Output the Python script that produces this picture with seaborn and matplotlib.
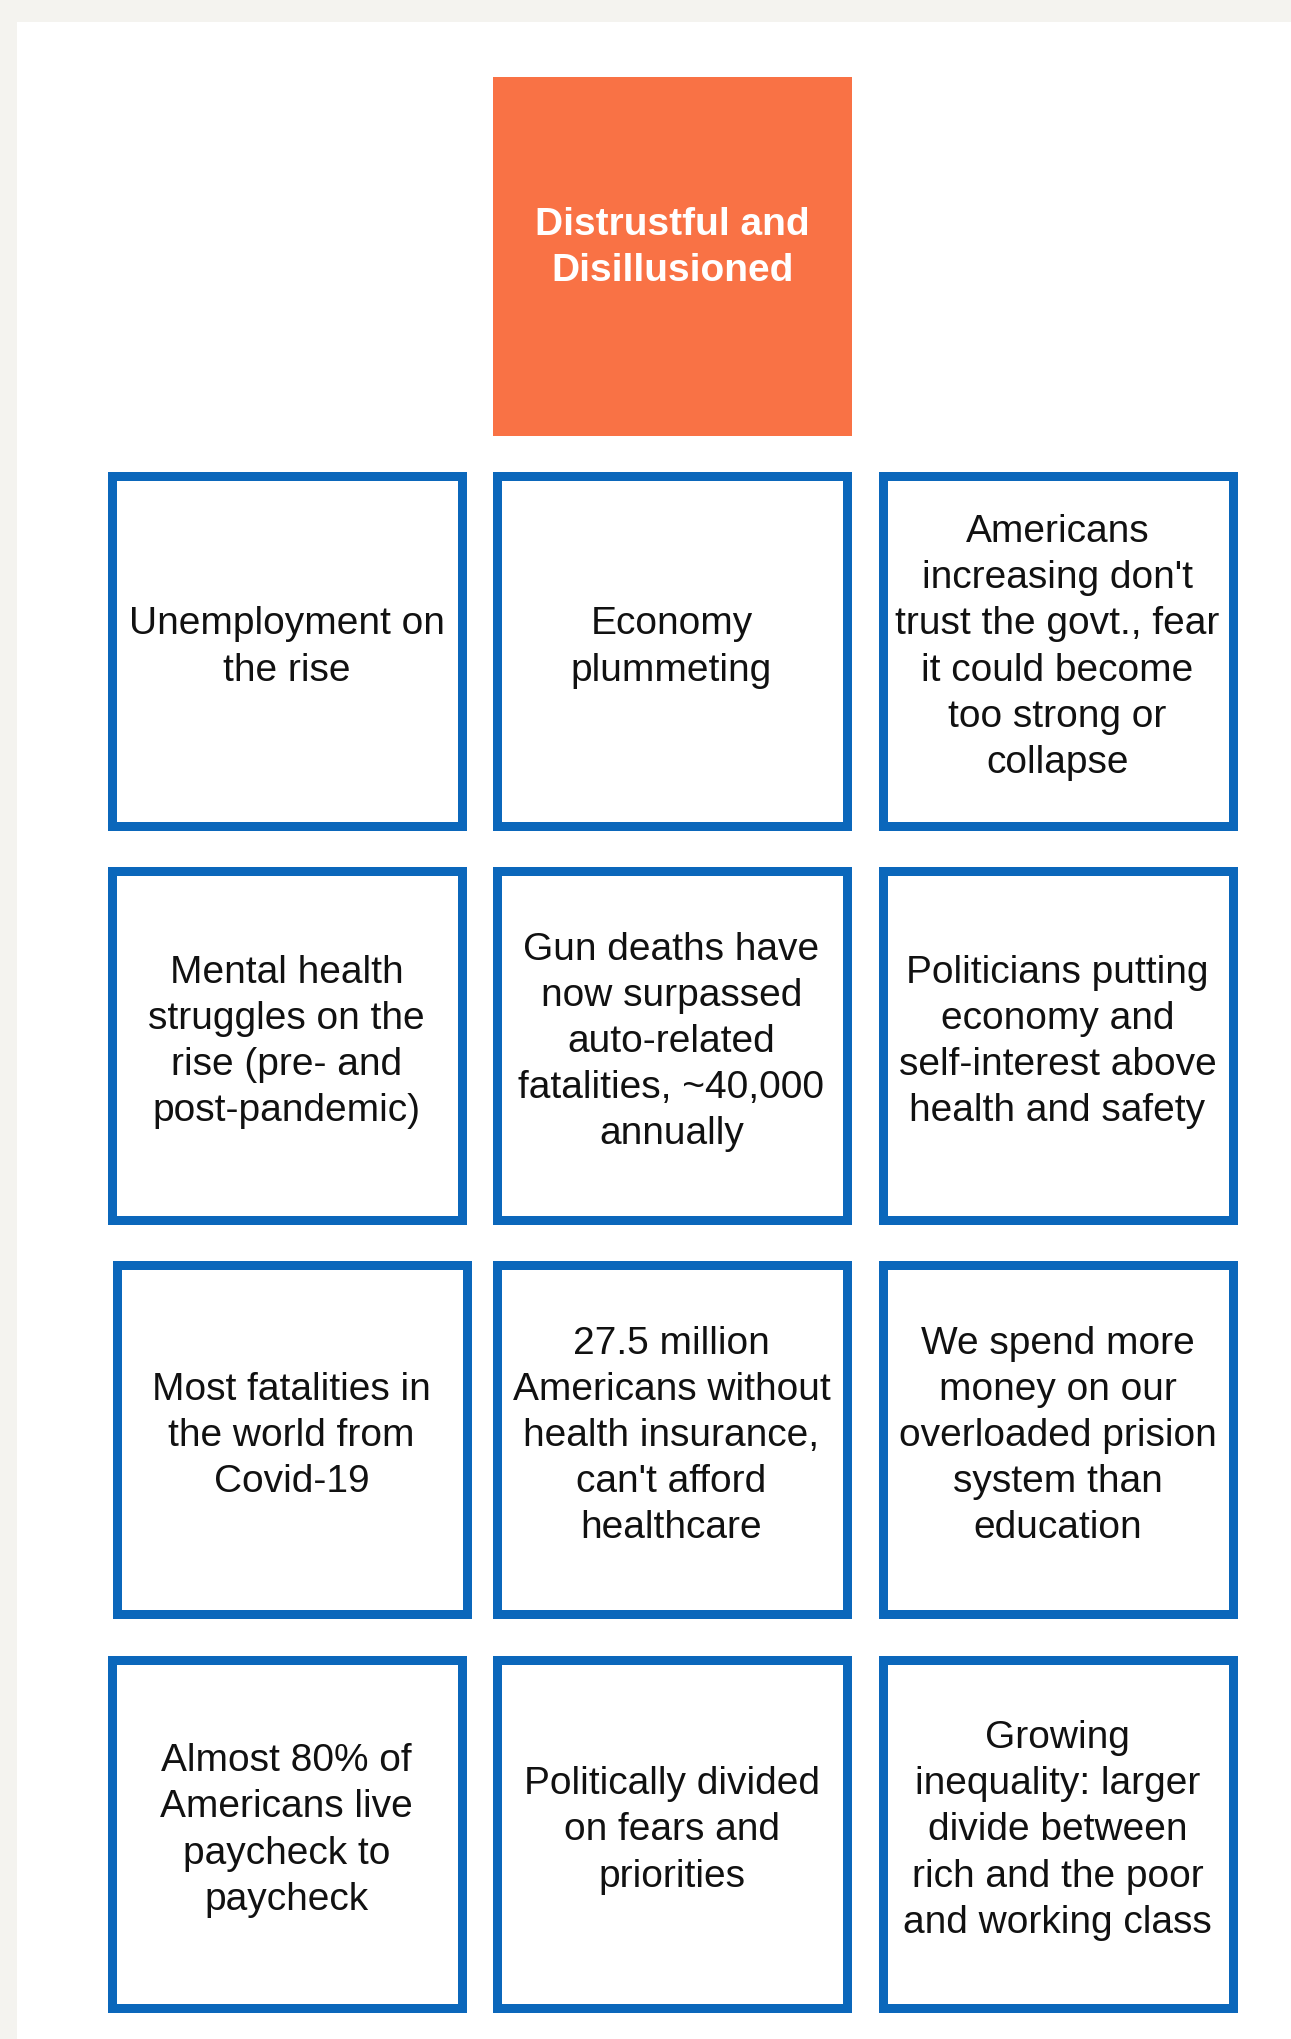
import matplotlib
matplotlib.use("Agg")
import matplotlib.pyplot as plt
from matplotlib.patches import Rectangle
import seaborn as sns

# Chart content
title_text = "Distrustful and\nDisillusioned"
card_rows = [0, 0, 0, 1, 1, 1, 2, 2, 2, 3, 3, 3]
card_cols = [0, 1, 2, 0, 1, 2, 0, 1, 2, 0, 1, 2]
card_texts = [
    "Unemployment on\nthe rise",
    "Economy\nplummeting",
    "Americans\nincreasing don't\ntrust the govt., fear\nit could become\ntoo strong or\ncollapse",
    "Mental health\nstruggles on the\nrise (pre- and\npost-pandemic)",
    "Gun deaths have\nnow surpassed\nauto-related\nfatalities, ~40,000\nannually",
    "Politicians putting\neconomy and\nself-interest above\nhealth and safety",
    "Most fatalities in\nthe world from\nCovid-19",
    "27.5 million\nAmericans without\nhealth insurance,\ncan't afford\nhealthcare",
    "We spend more\nmoney on our\noverloaded prision\nsystem than\neducation",
    "Almost 80% of\nAmericans live\npaycheck to\npaycheck",
    "Politically divided\non fears and\npriorities",
    "Growing\ninequality: larger\ndivide between\nrich and the poor\nand working class",
]

# Layout (pixels)
W, H = 1291, 2039
col_left = [107, 492, 878]
row_top = [471, 866, 1260, 1655]
row_bottom = [830, 1224, 1618, 2012]
card_w = 359
border_px = 9
orange = "#f97245"
blue = "#0b67bb"

sns.set_theme(style="white")
plt.rcParams["font.family"] = ["Liberation Sans", "DejaVu Sans"]

fig = plt.figure(figsize=(W / 100, H / 100), dpi=100, facecolor="#f4f3ef")
ax = fig.add_axes([0, 0, 1, 1])
ax.set_xlim(0, W)
ax.set_ylim(H, 0)
ax.axis("off")

# white page
ax.add_patch(Rectangle((17, 22), W - 17, H - 22, facecolor="white", edgecolor="none", zorder=0))

# title block
ax.add_patch(Rectangle((493, 77), 359, 359, facecolor=orange, edgecolor="none", zorder=1))
ax.text(493 + 359 / 2, 248, title_text, ha="center", va="center", color="white",
        fontsize=28, fontweight="bold", linespacing=1.36, zorder=2)

lw_pt = border_px * 72 / 100
half = border_px / 2
for r, c, txt in zip(card_rows, card_cols, card_texts):
    x0 = col_left[c] + (5 if (r == 2 and c == 0) else 0)
    y0, y1 = row_top[r], row_bottom[r]
    ax.add_patch(Rectangle((x0 + half, y0 + half), card_w - border_px, (y1 - y0) - border_px,
                           facecolor="white", edgecolor=blue, linewidth=lw_pt, zorder=1))
    ax.text(x0 + card_w / 2, (y0 + y1) / 2 - 3, txt, ha="center", va="center",
            color="#111111", fontsize=28, linespacing=1.36, zorder=2)

fig.savefig("out.png", dpi=100, facecolor=fig.get_facecolor())
